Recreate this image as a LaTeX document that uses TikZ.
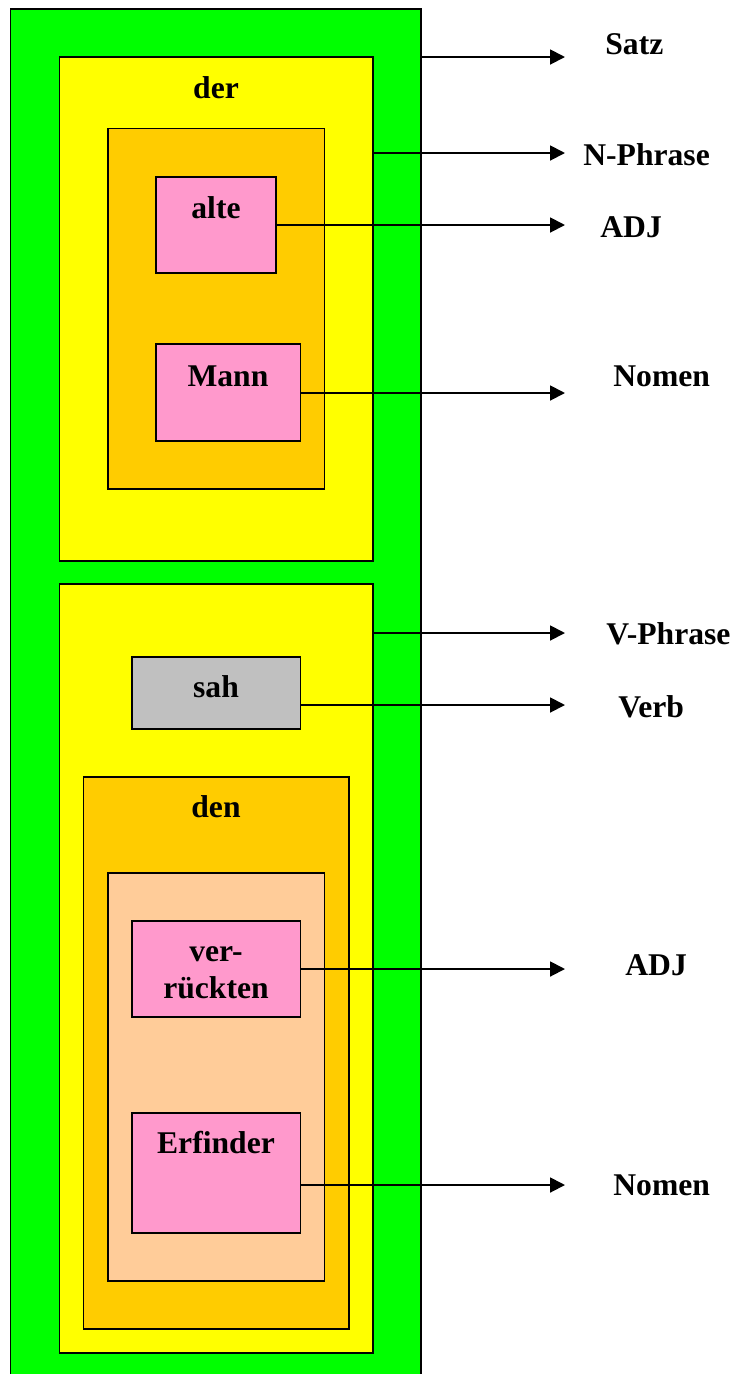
\documentclass[tikz,border=0pt]{standalone}
\usepackage{fontspec}
\setmainfont{Liberation Serif}
\usetikzlibrary{arrows.meta, fit}

\definecolor{satzgreen}{HTML}{00FF00}
\definecolor{phraseyellow}{HTML}{FFFF00}
\definecolor{groupgold}{HTML}{FFCC00}
\definecolor{wordpink}{HTML}{FF99CC}
\definecolor{verbgrey}{HTML}{C0C0C0}
\definecolor{innerpeach}{HTML}{FFCC99}

\begin{document}
\begin{tikzpicture}[
    x=0.02cm, y=-0.02cm,
    every node/.style={font=\bfseries\fontsize{18}{20.5}\selectfont},
    box/.style={rectangle, draw, line width=1.1pt, inner sep=0pt},
    word/.style={anchor=base, align=center, inner sep=0pt},
    cat/.style={anchor=base west, inner sep=0pt},
    arrow/.style={-{Triangle[length=8.5pt, width=8.5pt]}, line width=1.1pt}
]
\useasboundingbox (0,0) rectangle (736,1374);

% --- Kästen ---
\node (satz) [box, fill=satzgreen, fit={(10.5,9) (421,1390)}] {};
\node (nphrase) [box, fill=phraseyellow, fit={(59.5,57) (373,561)}] {};
\node (nkern) [box, fill=groupgold, fit={(108,128.5) (324.5,489)}] {};
\node (alte) [box, fill=wordpink, fit={(155.7,177) (276,273)}] {};
\node (mann) [box, fill=wordpink, fit={(155.7,344) (300.5,441)}] {};
\node (vphrase) [box, fill=phraseyellow, fit={(59.5,584) (373,1353)}] {};
\node (sah) [box, fill=verbgrey, fit={(131.6,657) (300.5,729)}] {};
\node (objekt) [box, fill=groupgold, fit={(83.5,777) (348.6,1329)}] {};
\node (objkern) [box, fill=innerpeach, fit={(108,873) (324.5,1281)}] {};
\node (verrueckt) [box, fill=wordpink, fit={(131.6,921) (300.5,1017)}] {};
\node (erfinder) [box, fill=wordpink, fit={(131.6,1113) (300.5,1233)}] {};

% --- Wörter ---
\node (w-der) [word] at (216,98) {der};
\node (w-alte) [word] at (216,218) {alte};
\node (w-mann) [word] at (228,386) {Mann};
\node (w-sah) [word] at (216,697) {sah};
\node (w-den) [word] at (216,817) {den};
\node (w-verrueckt) [word] at (216,998) {ver-\\rückten};
\node (w-erfinder) [word] at (216,1153) {Erfinder};

% --- Kategorien ---
\node (c-satz) [cat] at (605,54) {Satz};
\node (c-nphrase) [cat] at (583,165) {N-Phrase};
\node (c-adj1) [cat] at (600,237) {ADJ};
\node (c-nomen1) [cat] at (613,386) {Nomen};
\node (c-vphrase) [cat] at (606,644) {V-Phrase};
\node (c-verb) [cat] at (618,717) {Verb};
\node (c-adj2) [cat] at (625,975) {ADJ};
\node (c-nomen2) [cat] at (613,1195) {Nomen};

% --- Pfeilspitzen ---
\coordinate (t-satz) at (565,57);
\coordinate (t-nphrase) at (565,153);
\coordinate (t-adj1) at (565,225);
\coordinate (t-nomen1) at (565,393);
\coordinate (t-vphrase) at (565,633);
\coordinate (t-verb) at (565,705);
\coordinate (t-adj2) at (565,969);
\coordinate (t-nomen2) at (565,1185);

% --- Pfeile ---
\draw [arrow] (satz.east |- t-satz) -- (t-satz);
\draw [arrow] (nphrase.east |- t-nphrase) -- (t-nphrase);
\draw [arrow] (alte.east |- t-adj1) -- (t-adj1);
\draw [arrow] (mann.east |- t-nomen1) -- (t-nomen1);
\draw [arrow] (vphrase.east |- t-vphrase) -- (t-vphrase);
\draw [arrow] (sah.east |- t-verb) -- (t-verb);
\draw [arrow] (verrueckt.east |- t-adj2) -- (t-adj2);
\draw [arrow] (erfinder.east |- t-nomen2) -- (t-nomen2);

\end{tikzpicture}
\end{document}
